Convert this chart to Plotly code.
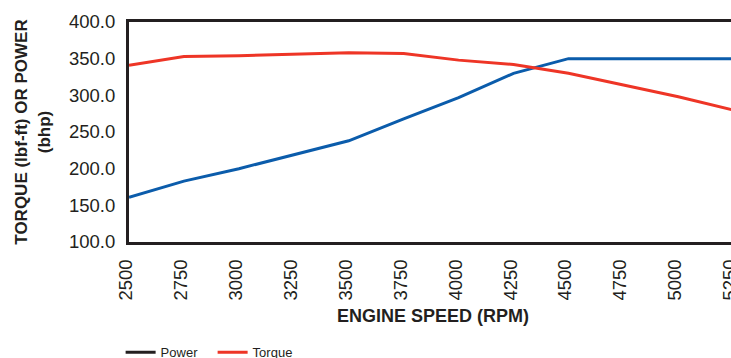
import plotly.graph_objects as go

rpm = [2500, 2750, 3000, 3250, 3500, 3750, 4000, 4250, 4500, 4750, 5000, 5250]
power = [161, 183, 200, 219, 238, 268, 297, 330, 350, 350, 350, 350]
torque = [341, 353, 354, 356, 358, 357, 348, 342, 330, 314, 298, 280]

BLUE = "#0b5cab"
RED = "#ee3526"
INK = "#231f20"

fig = go.Figure()
fig.add_trace(go.Scatter(x=rpm, y=power, mode="lines", name="Power",
                         line=dict(color=BLUE, width=3), showlegend=False))
fig.add_trace(go.Scatter(x=rpm, y=torque, mode="lines", name="Torque",
                         line=dict(color=RED, width=3), showlegend=False))
# legend entries (legend shows Power in black)
fig.add_trace(go.Scatter(x=[None], y=[None], mode="lines", name="Power",
                         line=dict(color=INK, width=3)))
fig.add_trace(go.Scatter(x=[None], y=[None], mode="lines", name="Torque",
                         line=dict(color=RED, width=3)))

fig.update_layout(
    width=740, height=358,
    margin=dict(l=129, r=0, t=22, b=116),
    paper_bgcolor="white", plot_bgcolor="white",
    font=dict(family="Liberation Sans, Arial, sans-serif", color=INK),
    showlegend=True,
    legend=dict(orientation="h", xref="container", yref="container",
                x=0.163, y=0.016, xanchor="left", yanchor="middle",
                font=dict(size=13, color=INK),
                itemwidth=30, entrywidth=47, traceorder="normal"),
    annotations=[dict(text="<b>ENGINE SPEED (RPM)</b>", xref="paper", yref="paper",
                      x=0.5, y=-0.336, xanchor="center", yanchor="middle",
                      showarrow=False, font=dict(size=18, color=INK))],
)
fig.update_xaxes(
    range=[2500, 5267], tickmode="array", tickvals=rpm, ticktext=[str(v) for v in rpm],
    tickangle=-90, tickfont=dict(size=18.5), ticks="", showgrid=False, zeroline=False,
    showline=True, linecolor=INK, linewidth=3, mirror=True,
    ticklabelshift=-3, ticklabelstandoff=7, ticklabeloverflow="allow",
)
fig.update_yaxes(
    range=[100, 400], dtick=50, tick0=100, tickformat=".1f",
    tickfont=dict(size=18.5), ticks="", showgrid=False, zeroline=False,
    showline=True, linecolor=INK, linewidth=3, mirror=True,
    ticklabelstandoff=7,
    title=dict(text="<b>TORQUE (lbf-ft) OR POWER<br>(bhp)</b>", font=dict(size=17), standoff=15),
)

fig.write_html(
    "out.html",
    config={"displayModeBar": False},
    post_script="document.body.style.margin='0';document.body.style.overflow='hidden';"
                "document.documentElement.style.overflow='hidden';",
)
